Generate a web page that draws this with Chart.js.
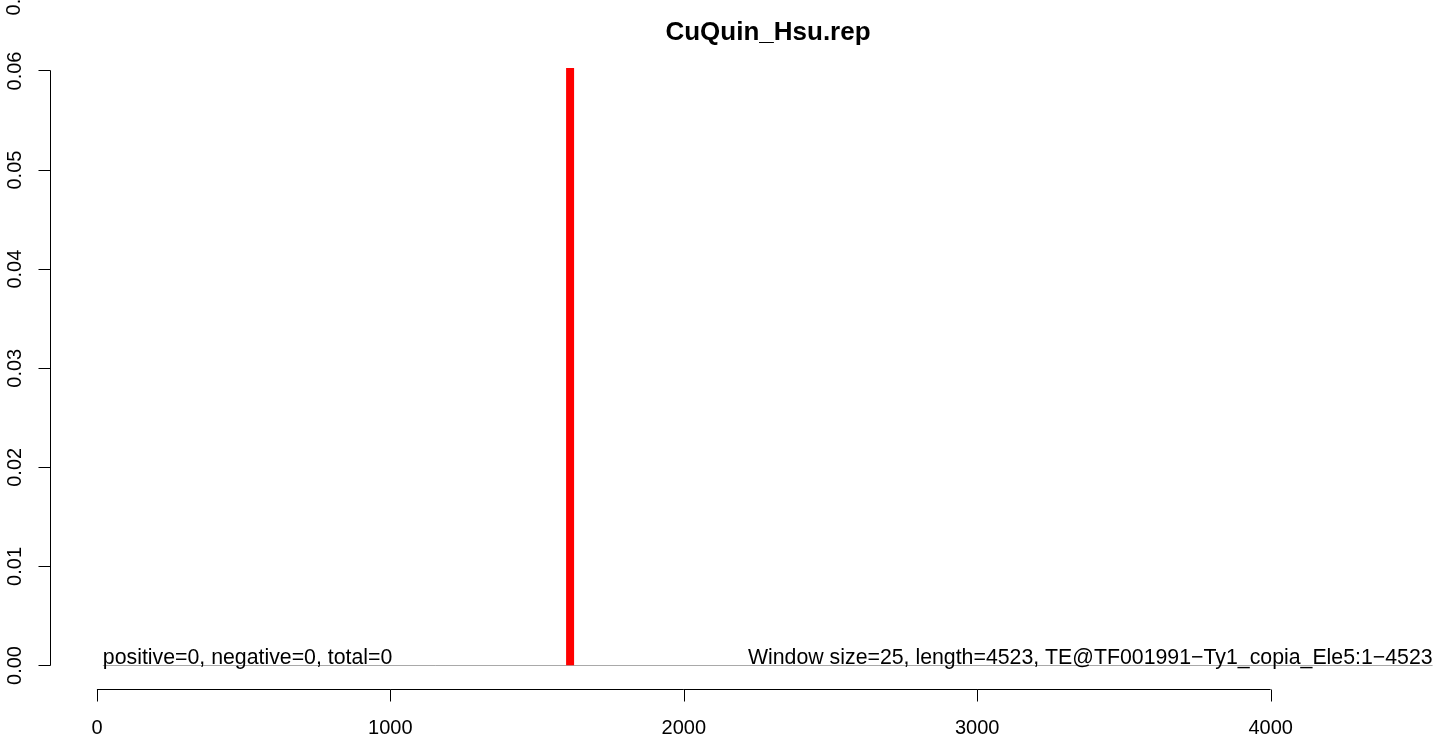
<!DOCTYPE html>
<html>
<head>
<meta charset="utf-8">
<title>CuQuin_Hsu.rep</title>
<script src="https://cdn.jsdelivr.net/npm/chart.js@4"></script>
<style>
    html, body { margin: 0; padding: 0; background: #fff; overflow: hidden; }
    #wrap { position: relative; width: 1536px; height: 740px; }
</style>
</head>
<body>
<div id="wrap"><canvas id="plot"></canvas></div>
<script>
// CuQuin_Hsu.rep - coverage plot of one TE (R base-graphics look)
// one red window, flat zero line, two annotation strings on the baseline

const TITLE = 'CuQuin_Hsu.rep';

// axis ranges and ticks
const X_RANGE = [-160, 4734];
const Y_RANGE = [0, 0.0603];
const X_TICKS = [0, 1000, 2000, 3000, 4000];
const Y_TICKS = [0, 0.01, 0.02, 0.03, 0.04, 0.05, 0.06];

// the single hit window (start, end of the 25 bp window) and its height
const HIT_X = [1600, 1625];
const HIT_Y = [0, 0.0603];

// grey zero line across the element
const BASE_X = [20, 4552];
const BASE_Y = [0, 0];

const LEFT_NOTE = 'positive=0, negative=0, total=0';
const RIGHT_NOTE = 'Window size=25, length=4523, TE@TF001991\u2212Ty1_copia_Ele5:1\u22124523';

const FONT = '"Liberation Sans", Arial, Helvetica, sans-serif';
Chart.defaults.font.family = FONT;
Chart.defaults.color = '#000';

const hitMid = (HIT_X[0] + HIT_X[1]) / 2;

// R-style axes: detached from the plot box, ticks pointing outward,
// main title centred over the plot region rather than the canvas
const rAxes = {
    id: 'rAxes',
    afterDraw(chart) {
        const { ctx, scales: { x, y }, chartArea } = chart;
        ctx.save();
        ctx.strokeStyle = '#000';
        ctx.lineWidth = 1;

        const ax = chartArea.left + 0.5;
        ctx.beginPath();
        ctx.moveTo(ax, Math.floor(y.getPixelForValue(Y_TICKS[0])) + 0.5);
        ctx.lineTo(ax, Math.floor(y.getPixelForValue(Y_TICKS[Y_TICKS.length - 1])) + 0.5);
        Y_TICKS.forEach(v => {
            const py = Math.floor(y.getPixelForValue(v)) + 0.5;
            ctx.moveTo(ax, py);
            ctx.lineTo(ax - 12, py);
        });
        ctx.stroke();

        const ay = Math.floor(chartArea.bottom) + 24.5;
        ctx.beginPath();
        ctx.moveTo(x.getPixelForValue(X_TICKS[0]), ay);
        ctx.lineTo(x.getPixelForValue(X_TICKS[X_TICKS.length - 1]), ay);
        X_TICKS.forEach(v => {
            const px = Math.round(x.getPixelForValue(v)) + 0.5;
            ctx.moveTo(px, ay);
            ctx.lineTo(px, ay + 12);
        });
        ctx.stroke();

        ctx.fillStyle = '#000';

        // title
        ctx.font = 'bold 26px ' + FONT;
        ctx.textAlign = 'center';
        ctx.textBaseline = 'middle';
        ctx.fillText(TITLE, (chartArea.left + chartArea.right) / 2, 33);

        // annotations sitting on the zero line
        ctx.font = '21.3px ' + FONT;
        ctx.textBaseline = 'alphabetic';
        const by = Math.floor(y.getPixelForValue(0)) - 1;
        ctx.textAlign = 'left';
        ctx.fillText(LEFT_NOTE, x.getPixelForValue(BASE_X[0]), by);
        ctx.textAlign = 'right';
        ctx.fillText(RIGHT_NOTE, x.getPixelForValue(BASE_X[1]), by);

        // R leaves the next tick label half off the top of the device
        ctx.font = '20px ' + FONT;
        ctx.translate(14.5, -4);
        ctx.rotate(-Math.PI / 2);
        ctx.textAlign = 'center';
        ctx.textBaseline = 'middle';
        ctx.fillText('0.07', 0, 0);
        ctx.restore();
    }
};

new Chart(document.getElementById('plot'), {
    type: 'line',
    data: {
        datasets: [
            {
                label: 'zero',
                data: BASE_X.map((v, i) => ({ x: v, y: BASE_Y[i] })),
                borderColor: '#555555',
                borderWidth: 1,
                pointRadius: 0,
                order: 2
            },
            {
                label: 'hit',
                data: HIT_Y.map(v => ({ x: hitMid, y: v })),
                borderColor: '#ff0000',
                borderWidth: 8,
                borderCapStyle: 'butt',
                pointRadius: 0,
                order: 1
            }
        ]
    },
    options: {
        responsive: true,
        maintainAspectRatio: false,
        animation: false,
        layout: { padding: { left: 0, right: 50, top: 68, bottom: 0 } },
        plugins: {
            legend: { display: false },
            tooltip: { enabled: false },
            title: { display: false }
        },
        scales: {
            x: {
                type: 'linear',
                min: X_RANGE[0],
                max: X_RANGE[1],
                afterBuildTicks: s => { s.ticks = X_TICKS.map(v => ({ value: v })); },
                afterFit: s => { s.height = 74.5; },
                grid: { display: false, drawTicks: false },
                border: { display: false },
                ticks: {
                    font: { size: 20 },
                    padding: 51,
                    maxRotation: 0,
                    autoSkip: false,
                    callback: v => String(v)
                }
            },
            y: {
                type: 'linear',
                min: Y_RANGE[0],
                max: Y_RANGE[1],
                afterBuildTicks: s => { s.ticks = Y_TICKS.map(v => ({ value: v })); },
                afterFit: s => { s.width = 50; },
                grid: { display: false, drawTicks: false },
                border: { display: false },
                ticks: {
                    font: { size: 20 },
                    padding: 15,
                    minRotation: 90,
                    maxRotation: 90,
                    crossAlign: 'center',
                    autoSkip: false,
                    callback: v => v.toFixed(2)
                }
            }
        }
    },
    plugins: [rAxes]
});
</script>
</body>
</html>
